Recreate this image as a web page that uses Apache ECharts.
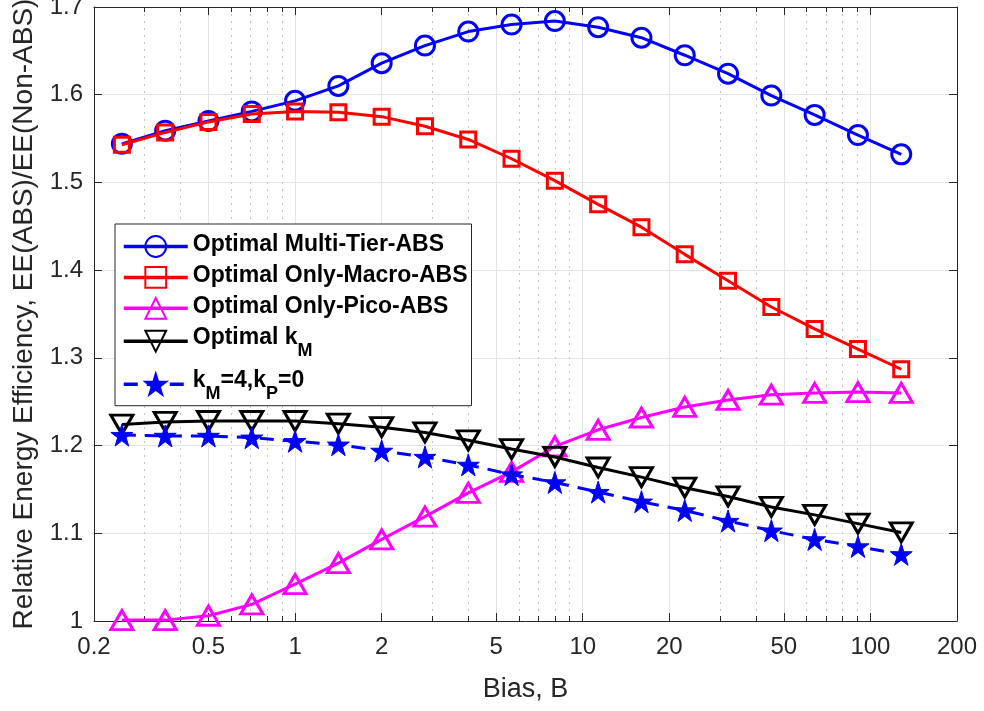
<!DOCTYPE html>
<html>
<head>
<meta charset="utf-8">
<script src="https://cdn.jsdelivr.net/npm/echarts@6/dist/echarts.min.js"></script>
<style>
html,body{margin:0;padding:0;background:#fff;}
#chart{width:984px;height:711px;}
</style>
</head>
<body>
<div id="chart"></div>
<script>
// Bias values (x)
const bias = [0.25, 0.3536, 0.5, 0.7071, 1, 1.4142, 2, 2.8284, 4, 5.6569, 8, 11.3137, 16, 22.6274, 32, 45.2548, 64, 90.5097, 128];
// Series values (y)
const multiTier = [1.544, 1.559, 1.570, 1.581, 1.593, 1.610, 1.636, 1.656, 1.672, 1.680, 1.684, 1.677, 1.665, 1.645, 1.624, 1.599, 1.577, 1.554, 1.532];
const onlyMacro = [1.543, 1.557, 1.569, 1.578, 1.581, 1.580, 1.575, 1.564, 1.549, 1.527, 1.502, 1.475, 1.449, 1.418, 1.388, 1.358, 1.333, 1.310, 1.287];
const onlyPico = [1.001, 1.001, 1.006, 1.019, 1.042, 1.066, 1.093, 1.119, 1.146, 1.170, 1.199, 1.218, 1.232, 1.244, 1.252, 1.258, 1.260, 1.261, 1.260];
const optimalKM = [1.224, 1.227, 1.228, 1.228, 1.228, 1.225, 1.221, 1.215, 1.206, 1.196, 1.187, 1.175, 1.164, 1.152, 1.142, 1.130, 1.121, 1.111, 1.101];
const kM4kP0 = [1.212, 1.211, 1.211, 1.209, 1.205, 1.201, 1.194, 1.187, 1.178, 1.167, 1.158, 1.147, 1.136, 1.126, 1.114, 1.103, 1.093, 1.085, 1.076];
// Tick values
const xMajorTicks = [0.2, 0.5, 1, 2, 5, 10, 20, 50, 100, 200];
const xMinorTicks = [0.3, 0.4, 0.6, 0.7, 0.8, 0.9, 3, 4, 6, 7, 8, 9, 30, 40, 60, 70, 80, 90];
const seriesNames = ['Optimal Multi-Tier-ABS', 'Optimal Only-Macro-ABS', 'Optimal Only-Pico-ABS', 'Optimal kM', 'kM=4,kP=0'];
const legendLabels = {
  'Optimal Multi-Tier-ABS': '{m|Optimal Multi-Tier-ABS}',
  'Optimal Only-Macro-ABS': '{m|Optimal Only-Macro-ABS}',
  'Optimal Only-Pico-ABS': '{m|Optimal Only-Pico-ABS}',
  'Optimal kM': '{mm|Optimal k}{s|M}',
  'kM=4,kP=0': '{mm|k}{s|M}{mm|=4,k}{s|P}{mm|=0}'
};

const FONT = "'Liberation Sans', Arial, Helvetica, sans-serif";
const TXT = '#262626';
const STAR = 'path://M50,0 L61.2,34.5 L97.6,34.5 L68.2,55.9 L79.4,90.5 L50,69.1 L20.6,90.5 L31.8,55.9 L2.4,34.5 L38.8,34.5 Z';

const pairs = arr => bias.map((b, i) => [b, arr[i]]);

const chart = echarts.init(document.getElementById('chart'), null, {renderer: 'canvas'});

const logAxisBase = {
  type: 'log', logBase: 10, min: 0.2, max: 200, gridIndex: 0
};

const option = {
  backgroundColor: '#ffffff',
  animation: false,
  textStyle: {fontFamily: FONT, color: TXT},
  grid: {left: 94, right: 27, top: 7, bottom: 90, containLabel: false, outerBoundsMode: 'none', show: false},
  legend: {
    orient: 'vertical',
    left: 115, top: 224,
    padding: [9, 4, 0, 7],
    itemGap: 6,
    itemWidth: 64,
    itemHeight: 26,
    backgroundColor: '#ffffff',
    borderColor: TXT,
    borderWidth: 1,
    borderRadius: 0,
    selectedMode: false,
    data: seriesNames,
    formatter: name => legendLabels[name],
    lineStyle: {width: 3.5},
    textStyle: {
      fontFamily: FONT,
      color: '#000',
      rich: {
        m: {fontSize: 23, fontWeight: 'bold', fontFamily: FONT, color: '#000', lineHeight: 27, verticalAlign: 'top'},
        mm: {fontSize: 23, fontWeight: 'bold', fontFamily: FONT, color: '#000', lineHeight: 31, verticalAlign: 'top'},
        s: {fontSize: 18, fontWeight: 'bold', fontFamily: FONT, color: '#000', lineHeight: 17, padding: [16, 0, 3, 0], verticalAlign: 'top'}
      }
    }
  },
  xAxis: [
    Object.assign({}, logAxisBase, {
      position: 'bottom',
      name: 'Bias, B',
      nameLocation: 'middle',
      nameGap: 55,
      nameTextStyle: {fontSize: 27, color: TXT, fontFamily: FONT},
      axisLine: {show: true, onZero: false, lineStyle: {color: TXT, width: 1}},
      axisTick: {show: true, inside: true, length: 8, customValues: xMajorTicks, lineStyle: {color: TXT}},
      axisLabel: {show: true, customValues: xMajorTicks, margin: 14, fontSize: 24, color: TXT, fontFamily: FONT,
        hideOverlap: false, alignMinLabel: 'center', alignMaxLabel: 'center',
        formatter: v => String(+v.toPrecision(6)), showMinLabel: true, showMaxLabel: true},
      splitLine: {show: true, lineStyle: {color: '#e3e3e3', width: 1}},
      minorTick: {show: false}
    }),
    Object.assign({}, logAxisBase, {
      position: 'bottom',
      axisLine: {show: false},
      axisTick: {show: true, inside: true, length: 5, customValues: xMinorTicks, lineStyle: {color: TXT}},
      axisLabel: {show: false},
      splitLine: {show: true, lineStyle: {color: '#c4c4c4', width: 1, type: [2, 5]}}
    }),
    Object.assign({}, logAxisBase, {
      position: 'top',
      axisLine: {show: true, onZero: false, lineStyle: {color: TXT, width: 1}},
      axisTick: {show: true, inside: true, length: 8, customValues: xMajorTicks, lineStyle: {color: TXT}},
      axisLabel: {show: false},
      splitLine: {show: false}
    }),
    Object.assign({}, logAxisBase, {
      position: 'top',
      axisLine: {show: false},
      axisTick: {show: true, inside: true, length: 5, customValues: xMinorTicks, lineStyle: {color: TXT}},
      axisLabel: {show: false},
      splitLine: {show: false}
    })
  ],
  yAxis: [
    {
      type: 'value', min: 1, max: 1.7, interval: 0.1, position: 'left',
      name: 'Relative Energy Efficiency, EE(ABS)/EE(Non-ABS)',
      nameLocation: 'middle',
      nameGap: 54,
      nameTextStyle: {fontSize: 28, color: TXT, fontFamily: FONT},
      axisLine: {show: true, onZero: false, lineStyle: {color: TXT, width: 1}},
      axisTick: {show: true, inside: true, length: 8, lineStyle: {color: TXT}},
      axisLabel: {show: true, margin: 11, fontSize: 24, color: TXT, fontFamily: FONT, hideOverlap: false},
      splitLine: {show: true, lineStyle: {color: '#e3e3e3', width: 1}}
    },
    {
      type: 'value', min: 1, max: 1.7, interval: 0.1, position: 'right',
      axisLine: {show: true, onZero: false, lineStyle: {color: TXT, width: 1}},
      axisTick: {show: true, inside: true, length: 8, lineStyle: {color: TXT}},
      axisLabel: {show: false},
      splitLine: {show: false}
    }
  ],
  series: [
    {
      name: seriesNames[0], type: 'line', data: pairs(multiTier),
      symbol: 'circle', symbolSize: 19,
      lineStyle: {color: '#0000ff', width: 3},
      itemStyle: {color: 'rgba(0,0,0,0)', borderColor: '#0000ff', borderWidth: 3},
      z: 3
    },
    {
      name: seriesNames[1], type: 'line', data: pairs(onlyMacro),
      symbol: 'rect', symbolSize: 15,
      lineStyle: {color: '#ff0000', width: 3},
      itemStyle: {color: 'rgba(0,0,0,0)', borderColor: '#ff0000', borderWidth: 3},
      z: 4
    },
    {
      name: seriesNames[2], type: 'line', data: pairs(onlyPico),
      symbol: 'triangle', symbolSize: [22, 19],
      lineStyle: {color: '#ff00ff', width: 3},
      itemStyle: {color: 'rgba(0,0,0,0)', borderColor: '#ff00ff', borderWidth: 3},
      z: 5
    },
    {
      name: seriesNames[3], type: 'line', data: pairs(optimalKM),
      symbol: 'triangle', symbolRotate: 180, symbolSize: [22, 19],
      lineStyle: {color: '#000000', width: 3},
      itemStyle: {color: 'rgba(0,0,0,0)', borderColor: '#000000', borderWidth: 3},
      z: 6
    },
    {
      name: seriesNames[4], type: 'line', data: pairs(kM4kP0),
      symbol: STAR, symbolSize: 22,
      lineStyle: {color: '#0000ff', width: 3, type: [14, 9]},
      itemStyle: {color: '#0000ff', borderColor: '#0000ff', borderWidth: 1},
      z: 7
    }
  ]
};
chart.setOption(option);
</script>
</body>
</html>
